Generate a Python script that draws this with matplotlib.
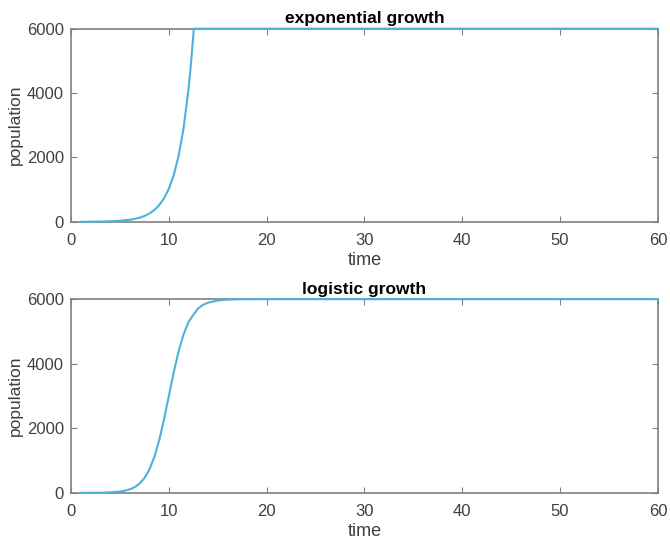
import matplotlib
matplotlib.use("Agg")
import matplotlib.pyplot as plt

# valeurs (temps, population)
t_exp = [1, 2, 3, 4, 5, 6, 6.5, 7, 7.5, 8, 8.5, 9, 9.5, 10, 10.5, 11, 11.5, 12, 12.25, 12.5, 12.55, 60]
p_exp = [2, 4, 8, 16, 32, 64, 91, 128, 181, 256, 362, 512, 724, 1024, 1448, 2048, 2896, 4096, 4870, 5790, 6000, 6000]

t_log = [1, 2, 3, 4, 5, 5.5, 6, 6.5, 7, 7.5, 8, 8.5, 9, 9.5, 10, 10.5, 11, 11.5, 12, 12.5, 13, 13.5, 14, 15, 16, 17, 18, 20, 60]
p_log = [1, 2, 5, 15, 40, 66, 108, 176, 284, 455, 715, 1095, 1614, 2265, 3000, 3735, 4386, 4905, 5285, 5512, 5716, 5826, 5892, 5960, 5985, 5995, 5998, 6000, 6000]

titles = ["exponential growth", "logistic growth"]
xticks = [0, 10, 20, 30, 40, 50, 60]
yticks = [0, 2000, 4000, 6000]

plt.rcParams['font.family'] = ['Liberation Sans', 'DejaVu Sans']
line_color = '#4fb0dc'
axis_color = '#808080'
text_color = '#404040'

fig = plt.figure(figsize=(6.7, 5.41), dpi=100)
ax1 = fig.add_axes([0.106, 0.590, 0.876, 0.357])
ax2 = fig.add_axes([0.106, 0.089, 0.876, 0.358])

for ax, t, p, title in [(ax1, t_exp, p_exp, titles[0]), (ax2, t_log, p_log, titles[1])]:
    ax.plot(t, p, color=line_color, linewidth=1.5, clip_on=False, zorder=3)
    ax.set_xlim(0, 60)
    ax.set_ylim(0, 6000)
    ax.set_xticks(xticks)
    ax.set_yticks(yticks)
    ax.set_title(title, fontsize=12.5, fontweight='bold', color='black', pad=4)
    ax.set_xlabel('time', fontsize=13, color=text_color, labelpad=3)
    ax.set_ylabel('population', fontsize=12.5, color=text_color, labelpad=3)
    ax.tick_params(direction='in', top=True, right=True, length=4, width=0.8,
                   colors=axis_color, labelcolor=text_color, labelsize=12)
    ax.tick_params(axis='x', pad=8)
    ax.tick_params(axis='y', pad=5)
    for s in ax.spines.values():
        s.set_color(axis_color)
        s.set_linewidth(1.2)

fig.savefig('out.png', dpi=100)
